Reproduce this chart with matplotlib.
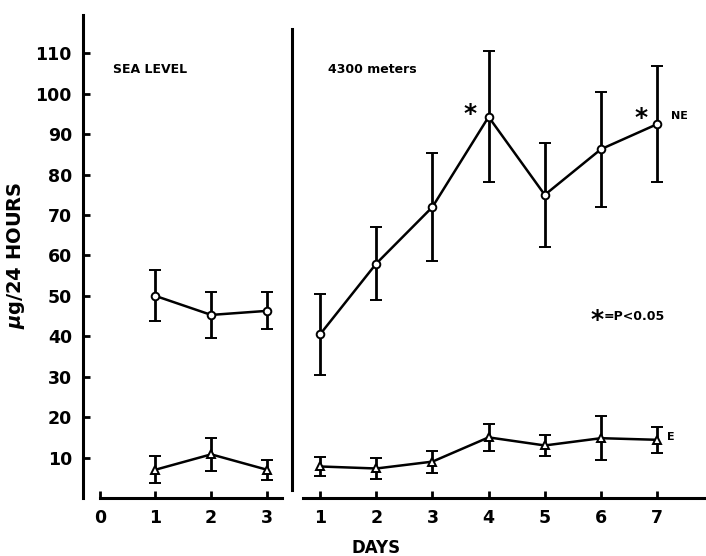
import matplotlib.pyplot as plt

# sea level (days 1-3)
sl_days = [1, 2, 3]
sl_ne = [50.0, 45.3, 46.3]
sl_ne_err = [6.3, 5.6, 4.6]
sl_e = [7.0, 10.8, 7.0]
sl_e_err = [3.3, 4.0, 2.5]

# 4300 meters (days 1-7)
alt_days = [1, 2, 3, 4, 5, 6, 7]
alt_ne = [40.5, 58.0, 72.0, 94.3, 75.0, 86.3, 92.5]
alt_ne_err = [10.0, 9.0, 13.3, 16.2, 12.8, 14.2, 14.3]
alt_e = [7.8, 7.3, 9.0, 15.0, 13.0, 14.8, 14.4]
alt_e_err = [2.3, 2.7, 2.7, 3.3, 2.6, 5.5, 3.2]

yticks = [10, 20, 30, 40, 50, 60, 70, 80, 90, 100, 110]

plt.rcParams['font.family'] = 'DejaVu Sans'
plt.rcParams['font.weight'] = 'bold'

fig = plt.figure(figsize=(7.06, 5.56), dpi=100)
ax1 = fig.add_axes([83 / 706, 58 / 556, 209 / 706, 485 / 556])
ax2 = fig.add_axes([292 / 706, 58 / 556, 414 / 706, 485 / 556])

bar_kw = dict(color='black', lw=1.8, elinewidth=2, capsize=4, capthick=2,
              markerfacecolor='white', markeredgecolor='black', markeredgewidth=1.4)

# left panel
ax1.errorbar(sl_days, sl_ne, yerr=sl_ne_err, marker='o', ms=5.5, **bar_kw)
ax1.errorbar(sl_days, sl_e, yerr=sl_e_err, marker='^', ms=5.5, **bar_kw)
ax1.set_xlim(-0.3, 3.45)
ax1.set_ylim(0, 120)
ax1.set_xticks([0, 1, 2, 3])
ax1.set_yticks(yticks)
ax1.spines['top'].set_visible(False)
ax1.spines['right'].set_visible(False)
ax1.spines['left'].set_bounds(0, 119.5)
ax1.spines['bottom'].set_bounds(0, 3.27)
for s in ['left', 'bottom']:
    ax1.spines[s].set_linewidth(2.2)
ax1.tick_params(direction='in', length=5, width=2, labelsize=12.5, pad=8)
ax1.text(0.23, 106, 'SEA LEVEL', fontsize=9, fontweight='bold', va='center')
ax1.set_ylabel('$\\mu$g/24 HOURS', fontsize=14, fontweight='bold', labelpad=6)

# right panel
ax2.errorbar(alt_days, alt_ne, yerr=alt_ne_err, marker='o', ms=5.5, **bar_kw)
ax2.errorbar(alt_days, alt_e, yerr=alt_e_err, marker='^', ms=5.5, **bar_kw)
ax2.set_xlim(0.5, 7.87)
ax2.set_ylim(0, 120)
ax2.set_xticks(alt_days)
ax2.set_yticks([])
ax2.spines['top'].set_visible(False)
ax2.spines['right'].set_visible(False)
ax2.spines['left'].set_bounds(2, 116)
ax2.spines['bottom'].set_bounds(0.7, 7.87)
for s in ['left', 'bottom']:
    ax2.spines[s].set_linewidth(2.2)
ax2.tick_params(axis='x', direction='in', length=5, width=2, labelsize=12.5, pad=8)
ax2.text(1.14, 106, '4300 meters', fontsize=9, fontweight='bold', va='center')
ax2.text(3.67, 95, '*', fontsize=18, fontweight='bold', ha='center', va='center')
ax2.text(6.72, 94, '*', fontsize=18, fontweight='bold', ha='center', va='center')
ax2.text(7.25, 94.6, 'NE', fontsize=8, fontweight='bold', va='center')
ax2.text(7.18, 15.2, 'E', fontsize=8, fontweight='bold', va='center')
ax2.text(5.93, 44, '*', fontsize=18, fontweight='bold', ha='center', va='center')
ax2.text(6.05, 45, '=P<0.05', fontsize=9, fontweight='bold', va='center')
ax2.set_xlabel('DAYS', fontsize=12, fontweight='bold')
ax2.xaxis.set_label_coords((376 - 292) / 414, -0.085)

fig.savefig('out.png', dpi=100)
